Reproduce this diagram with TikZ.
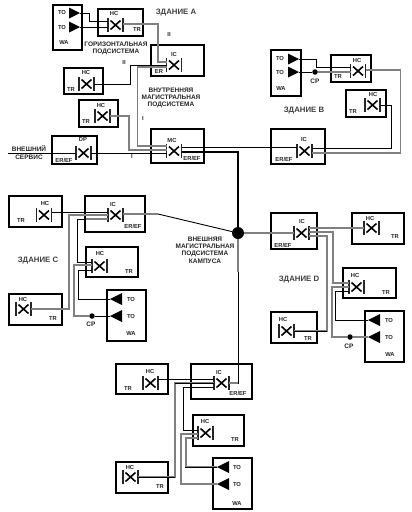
\documentclass[tikz,border=0pt]{standalone}
\usepackage{fontspec}
\setmainfont{Liberation Sans}
\usetikzlibrary{calc}
\definecolor{wg}{gray}{0.5}
\newcounter{lb}
\tikzset{
  box/.style={draw=black,line width=1.9pt,fill=white,inner sep=0pt,outer sep=0pt},
  xc/.style={inner sep=0pt,outer sep=0pt,minimum width=15pt,minimum height=14pt},
  bar/.style={line width=1.1pt,draw=black!85},
  xl/.style={line width=1.6pt,draw=black},
  bk/.style={line width=0.9pt,draw=black},
  gy/.style={line width=1.1pt,draw=wg},
  lbl/.style={font=\bfseries\fontsize{5.8}{7}\selectfont,inner sep=0pt,text=black!85,align=center},
  ttl/.style={font=\bfseries\fontsize{7.8}{9}\selectfont,inner sep=0pt,text=black!75,align=center},
  note/.style={font=\bfseries\fontsize{6.5}{7.2}\selectfont,inner sep=0pt,text=black!85,align=center},
  dotn/.style={circle,fill=black,inner sep=0pt,outer sep=0pt,minimum size=5.5pt},
}
\newcommand{\Bx}[5]{%
  \pgfmathsetmacro{\bw}{#4-#2}\pgfmathsetmacro{\bh}{#5-#3}%
  \node[box,minimum width=\bw pt,minimum height=\bh pt] (#1) at ({(#2+#4)/2},{(#3+#5)/2}) {};}
\newcommand{\XC}[3]{%
  \node[xc] (#1) at (#2,#3) {};
  \draw[bar] (#1.north west) -- (#1.south west);
  \draw[bar] (#1.north east) -- (#1.south east);
  \draw[xl] ([shift={(-5pt,4.5pt)}]#1.center) -- ([shift={(5pt,-4.5pt)}]#1.center);
  \draw[xl] ([shift={(-5pt,-4.5pt)}]#1.center) -- ([shift={(5pt,4.5pt)}]#1.center);}
\newcommand{\TR}[3]{\coordinate (#1) at (#2,#3);
  \fill[black] (#1) -- ++(-11,-5.5) -- ++(0,11) -- cycle;}
\newcommand{\TL}[3]{\coordinate (#1) at (#2,#3);
  \fill[black] (#1) -- ++(12,-6) -- ++(0,12) -- cycle;}
\newcommand{\Tx}[4][lbl]{\stepcounter{lb}\node[#1] (t\arabic{lb}) at (#2,#3) {#4};}
\begin{document}
\begin{tikzpicture}[x=1pt,y=-1pt]
\useasboundingbox (0,0) rectangle (412,512);
\fill[white] (0,0) rectangle (412,512);
% boxes
\Bx{waA}{53}{5}{82}{50}
\Bx{bxA1}{98}{9}{143}{36}
\Bx{bxA0}{151}{45}{204}{76}
\Bx{bxA2}{64}{68}{103}{94}
\Bx{bxA3}{79}{100}{118}{127}
\Bx{bxDP}{52}{136}{97}{164}
\Bx{bxMC}{151}{129}{204}{163}
\Bx{waB}{271}{50}{301}{96}
\Bx{bxB1}{331}{55}{371}{82}
\Bx{bxB2}{346}{90}{386}{117}
\Bx{bxB0}{271}{129}{325}{164}
\Bx{bxC0}{85}{196}{145}{232}
\Bx{bxC1}{9}{196}{62}{227}
\Bx{bxC2}{9}{294}{62}{325}
\Bx{bxC3}{86}{247}{138}{277}
\Bx{waC}{107}{290}{146}{341}
\Bx{bxD0}{271}{213}{317}{249}
\Bx{bxD1}{352}{213}{404}{244}
\Bx{bxD2}{343}{268}{396}{298}
\Bx{bxD3}{271}{312}{317}{343}
\Bx{waD}{365}{311}{404}{362}
\Bx{bxE0}{191}{364}{252}{399}
\Bx{bxE1}{116}{364}{168}{394}
\Bx{bxE2}{116}{462}{168}{493}
\Bx{bxE3}{193}{415}{244}{446}
\Bx{waE}{213}{458}{252}{509}
% cross connectors
\XC{hcA1}{115.5}{25}
\XC{icA}{174}{65}
\XC{hcA2}{86.5}{84}
\XC{hcA3}{102.5}{116}
\XC{dp}{83.5}{153}
\XC{mc}{174}{151}
\XC{hcB1}{358}{71}
\XC{hcB2}{372.5}{105}
\XC{icB}{304.5}{151}
\XC{icC}{115.5}{215}
\XC{hcC1}{44}{215}
\XC{hcC2}{23.5}{309}
\XC{hcC3}{99.5}{266}
\XC{icD}{301.5}{233}
\XC{hcD1}{371.5}{228}
\XC{hcD2}{356.5}{287}
\XC{hcD3}{286.5}{331}
\XC{icE}{221.5}{383}
\XC{hcE1}{150.5}{383}
\XC{hcE2}{130.5}{477}
\XC{hcE3}{205.5}{433}
% outlets
\TR{toA1}{80}{13}\TR{toA2}{80}{27}
\TR{toB1}{299}{59}\TR{toB2}{299}{72}
\TL{toC1}{110}{299}\TL{toC2}{110}{316}
\TL{toD1}{368}{320}\TL{toD2}{368}{337}
\TL{toE1}{217}{467}\TL{toE2}{217}{484}
\node[dotn] (cpB) at (315,72) {};
\node[dotn] (cpC) at (92,316) {};
\node[dotn] (cpD) at (350,337) {};
\node[circle,fill=black,inner sep=0pt,outer sep=0pt,minimum size=12pt] (jn) at (238,233) {};
\coordinate (svc) at (8,153);
% building A
\draw[bk] (toA1) -- ++(9,0) |- ([yshift=4pt]hcA1.west);
\draw[bk] (toA2) -- ([yshift=-2pt]hcA1.west);
\draw[gy] ([yshift=1pt]hcA1.east) -- ++(35,0) |- ([yshift=3pt]icA.west);
\draw[bk] (hcA2.east) -- ++(36,0) |- (icA.west);
\draw[gy] ([yshift=-2pt]icA.west) -- ++(-29,0) |- ([yshift=5pt]mc.west);
\draw[gy] (hcA3.east) -- ++(19,0) |- ([yshift=1pt]mc.west);
\draw[bk] (svc) -- (dp.west);
\draw[bk] (dp.east) -- ([yshift=-2pt]mc.west);
% campus backbone
\draw[bk] ([yshift=4pt]mc.east) -- ([yshift=4pt]icB.west);
\draw[black,line width=2.6pt] ([yshift=-1pt]mc.east) -| (jn.north);
\draw[bk] (jn) |- (icE.east);
\draw[gy] (jn.south) -- ++(0,33);
\draw[gy] (icE.east) -- ++(9,0);
\draw[gy] (jn) -- (icD.west);
\draw[gy] ([yshift=1pt]icC.east) -- ++(35,0) coordinate (cbend);
\draw[bk] (cbend) -- (jn);
% building B
\draw[bk] (toB1) -- ++(17,0) |- ([yshift=4pt]hcB1.west);
\draw[bk] (toB2) -- (cpB);
\draw[gy] (cpB) -- ([yshift=-1pt]hcB1.west);
\draw[gy] ([yshift=1pt]hcB1.east) -- ++(35,0) |- ([yshift=-2pt]icB.east);
\draw[bk] (hcB2.east) -- ++(11,0) |- ([yshift=3pt]icB.east);
% building C
\draw[bk] ([yshift=3pt]hcC1.east) -- ([yshift=3pt]icC.west);
\draw[gy] (icC.west) -- ++(-39,0) |- (hcC2.east);
\draw[bk] ([yshift=-4pt]icC.west) -- ++(-31,0) |- ([yshift=4pt]hcC3.west);
\draw[gy] ([yshift=-4pt]icC.west) -- ++(-22,0);
\draw[gy] ([yshift=1pt]hcC3.west) -- ++(-18,0) |- (cpC);
\draw[bk] (cpC) -- (toC2);
\draw[bk] ([yshift=-4pt]hcC3.west) -- ++(-14,0) |- (toC1);
% building D
\draw[gy] ([yshift=5pt]icD.east) -- (hcD1.west);
\draw[gy] ([yshift=1pt]icD.east) -- ++(24,0) |- ([yshift=4pt]hcD2.west);
\draw[gy] ([yshift=-3pt]icD.east) -- ++(18,0) |- (hcD3.east);
\draw[bk] (hcD3.east) -- ++(33,0);
\draw[gy] (hcD2.west) -- ++(-17,0) |- (cpD);
\draw[gy] (cpD) -- (toD2);
\draw[bk] ([yshift=-4pt]hcD2.west) -- ++(-14,0) |- (toD1);
% bottom building
\draw[bk] ([yshift=4pt]hcE1.east) -- ([yshift=4pt]icE.west);
\draw[gy] (icE.west) -- ++(-39,0) |- (hcE2.east);
\draw[bk] (icE.west) -- ++(-39,0);
\draw[bk] (hcE2.east) -- ++(37,0);
\draw[bk] ([yshift=-4pt]icE.west) -- ++(-31,0) |- ([yshift=3pt]hcE3.west);
\draw[gy] ([yshift=-1pt]hcE3.west) -- ++(-17,0) |- (toE2);
\draw[gy] ([yshift=-5pt]hcE3.west) -- ++(-12,0) |- (toE1);
\draw[bk] (toE1) -- ++(-32,0);
% labels building A
\Tx{62}{13}{TO}\Tx{62}{27}{TO}\Tx{64}{43}{WA}
\Tx{114}{14}{HC}\Tx{137}{30}{TR}
\Tx{174}{55}{IC}\Tx{159}{72}{ER}
\Tx{86}{73}{HC}\Tx{71}{90}{TR}
\Tx{101}{105}{HC}\Tx{86}{122}{TR}
\Tx{83}{140}{DP}\Tx{64}{160}{ER/EF}
\Tx{172}{140}{MC}\Tx{192}{158}{ER/EF}
\Tx[ttl]{176}{13}{ЗДАНИЕ А}
\Tx[note]{116}{48.5}{ГОРИЗОНТАЛЬНАЯ\\ПОДСИСТЕМА}
\Tx[note]{171}{98}{ВНУТРЕННЯЯ\\МАГИСТРАЛЬНАЯ\\ПОДСИСТЕМА}
\Tx[note]{29}{152.5}{ВНЕШНИЙ\\СЕРВИС}
\Tx{169}{35}{II}\Tx{124}{63}{II}\Tx{143}{119}{I}\Tx{132}{157}{I}
% labels building B
\Tx{280}{59}{TO}\Tx{280}{72}{TO}\Tx{281}{89}{WA}
\Tx{357}{60}{HC}\Tx{338}{77}{TR}
\Tx{373}{95}{HC}\Tx{353}{112}{TR}
\Tx{304}{139}{IC}\Tx{284}{159}{ER/EF}
\Tx[note]{315}{81}{CP}
\Tx[ttl]{304}{111}{ЗДАНИЕ В}
% labels building C
\Tx{113}{204}{IC}\Tx{133}{226}{ER/EF}
\Tx{45}{203}{HC}\Tx{21}{220}{TR}
\Tx{23}{299}{HC}\Tx{53}{318}{TR}
\Tx{100}{253}{HC}\Tx{129}{271}{TR}
\Tx{131}{299}{TO}\Tx{131}{316}{TO}\Tx{131}{333}{WA}
\Tx[note]{91}{324}{CP}
\Tx[ttl]{38}{261}{ЗДАНИЕ С}
\Tx[note]{205}{250}{ВНЕШНЯЯ\\МАГИСТРАЛЬНАЯ\\ПОДСИСТЕМА\\КАМПУСА}
% labels building D
\Tx{302}{221}{IC}\Tx{283}{245}{ER/EF}
\Tx{370}{218}{HC}\Tx{395}{237}{TR}
\Tx{355}{275}{HC}\Tx{386}{292}{TR}
\Tx{283}{319}{HC}\Tx{308}{338}{TR}
\Tx{389}{320}{TO}\Tx{389}{337}{TO}\Tx{390}{354}{WA}
\Tx[note]{349}{346}{CP}
\Tx[ttl]{299}{280}{ЗДАНИЕ D}
% labels bottom building
\Tx{219}{372}{IC}\Tx{238}{393}{ER/EF}
\Tx{150}{371}{HC}\Tx{128}{388}{TR}
\Tx{130}{467}{HC}\Tx{160}{486}{TR}
\Tx{205}{421}{HC}\Tx{235}{439}{TR}
\Tx{237}{467}{TO}\Tx{237}{484}{TO}\Tx{237}{503}{WA}
\end{tikzpicture}
\end{document}
